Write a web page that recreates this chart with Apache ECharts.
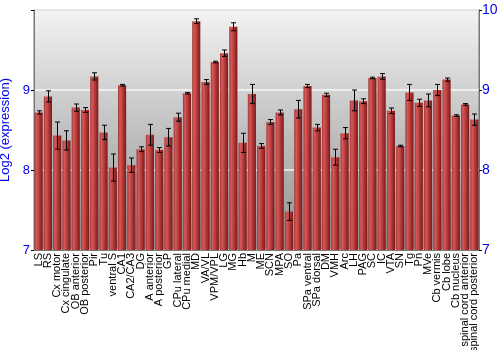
<!DOCTYPE html>
<html><head><meta charset="utf-8">
<script src="https://cdn.jsdelivr.net/npm/echarts@6/dist/echarts.min.js"></script>
<style>html,body{margin:0;padding:0;background:#fff}#c{width:500px;height:350px}</style>
</head><body><div id="c"></div>
<script>
const categories = ["LS","RS","Cx motor","Cx cingulate","OB anterior","OB posterior","Pir","Tu","ventral S","CA1","CA2/CA3","DG","A anterior","A posterior","GP","CPu lateral","CPu medial","MD","VA/VL","VPM/VPL","LG","MG","Hb","M","ME","SCN","MPA","SO","Pa","SPa ventral","SPa dorsal","DM","VMH","Arc","LH","PAG","SC","IC","VTA","SN","Tg","Pn","MVe","Cb vermis","Cb lobe","Cb nucleus","spinal cord anterior","spinal cord posterior"];
const means = [8.72,8.92,8.43,8.37,8.78,8.75,9.17,8.47,8.03,9.06,8.06,8.26,8.44,8.25,8.41,8.66,8.96,9.86,9.10,9.35,9.46,9.79,8.34,8.95,8.30,8.60,8.72,7.48,8.76,9.05,8.53,8.94,8.16,8.46,8.87,8.86,9.15,9.17,8.74,8.30,8.97,8.84,8.87,9.00,9.13,8.68,8.82,8.63];
const errors = [0.02,0.07,0.17,0.12,0.045,0.03,0.045,0.09,0.17,0.01,0.09,0.03,0.13,0.03,0.11,0.05,0.01,0.03,0.03,0.01,0.04,0.05,0.12,0.12,0.03,0.03,0.03,0.11,0.11,0.02,0.04,0.02,0.10,0.07,0.13,0.03,0.01,0.035,0.035,0.01,0.10,0.045,0.08,0.07,0.02,0.01,0.01,0.07];
const yTicks = [7,8,9,10];

const chart = echarts.init(document.getElementById('c'), null, {renderer:'canvas'});
const font = 'Liberation Sans, Arial, sans-serif';
const errData = means.map((m,i)=>[i, m-errors[i], m+errors[i]]);
chart.setOption({
  animation:false,
  grid:{left:34,right:21,top:10,bottom:100,containLabel:false,outerBoundsMode:'none',show:true,borderColor:'#777',borderWidth:1,
    backgroundColor:{type:'linear',x:0,y:0,x2:0,y2:1,colorStops:[{offset:0,color:'#f3f3f3'},{offset:1,color:'#8e8e8e'}]}},
  xAxis:{type:'category',data:categories,
    axisLine:{show:true,lineStyle:{color:'#777'}},axisTick:{show:false},
    axisLabel:{interval:0,rotate:90,fontSize:11,color:'#000',fontFamily:font,margin:3}},
  yAxis:[
    {type:'value',min:yTicks[0],max:yTicks[yTicks.length-1],interval:1,name:'Log2 (expression)',nameLocation:'middle',nameGap:19,
     nameTextStyle:{color:'#0000ee',fontSize:13,fontFamily:font},
     axisLine:{show:true,lineStyle:{color:'#777'}},axisTick:{show:true,length:3,lineStyle:{color:'#000'}},
     axisLabel:{color:'#0000ee',fontSize:13,fontFamily:font,margin:4,formatter:v=>v===10?'':String(v)},
     splitLine:{show:true,lineStyle:{color:'rgba(255,255,255,0.85)',width:1.5}}},
    {type:'value',min:yTicks[0],max:yTicks[yTicks.length-1],interval:1,position:'right',
     axisLine:{show:true,lineStyle:{color:'#777'}},axisTick:{show:true,length:3,lineStyle:{color:'#000'}},
     axisLabel:{color:'#0000ee',fontSize:14,fontFamily:font,margin:3},splitLine:{show:false}}
  ],
  series:[
    {type:'bar',data:means,barCategoryGap:'12%',
     itemStyle:{color:{type:'linear',x:0,y:0,x2:1,y2:0,colorStops:[
       {offset:0,color:'#a83434'},{offset:0.25,color:'#d35a5a'},{offset:0.55,color:'#b83c3c'},{offset:1,color:'#7a1818'}]}}},
    {type:'custom',data:errData,z:10,
     renderItem:function(params,api){
       const x=api.value(0);
       const lo=api.coord([x,api.value(1)]);
       const hi=api.coord([x,api.value(2)]);
       const cx=Math.round(lo[0])+0.5;
       const w=2.5;
       const st={stroke:'#000',lineWidth:1};
       return {type:'group',children:[
         {type:'line',shape:{x1:cx,y1:lo[1],x2:cx,y2:hi[1]},style:st},
         {type:'line',shape:{x1:cx-w,y1:lo[1],x2:cx+w,y2:lo[1]},style:st},
         {type:'line',shape:{x1:cx-w,y1:hi[1],x2:cx+w,y2:hi[1]},style:st}
       ]};
     }}
  ]
});
</script></body></html>
